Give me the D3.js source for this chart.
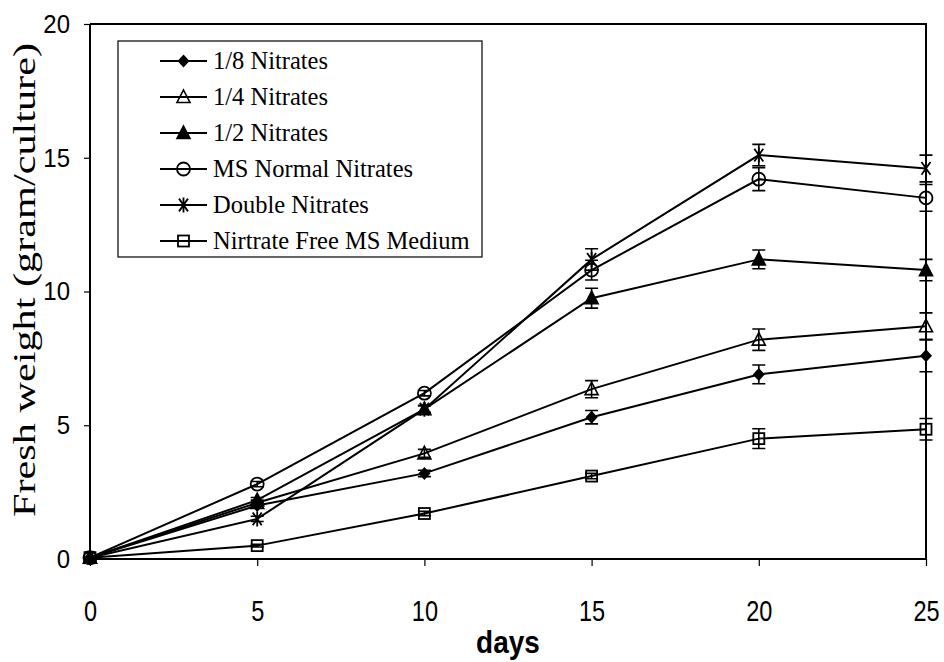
<!DOCTYPE html>
<html>
<head>
<meta charset="utf-8">
<script src="https://cdn.jsdelivr.net/npm/d3@7"></script>
<style>
  html, body { margin: 0; padding: 0; background: #fff; }
  svg { display: block; }
</style>
</head>
<body>
<svg id="chart" width="944" height="662"></svg>
<script>
// Sampling days
const days = [0, 5, 10, 15, 20, 25];

// Fresh weight (gram/culture) per treatment, with error half-widths
const eighthNitrates   = [0.05, 2.0, 3.2, 5.3, 6.9, 7.6];
const eighthErr        = [0.05, 0.1, 0.12, 0.25, 0.35, 0.6];
const quarterNitrates  = [0.05, 2.1, 3.95, 6.35, 8.2, 8.7];
const quarterErr       = [0.05, 0.1, 0.15, 0.32, 0.4, 0.5];
const halfNitrates     = [0.05, 2.2, 5.6, 9.75, 11.2, 10.8];
const halfErr          = [0.05, 0.1, 0.12, 0.37, 0.35, 0.4];
const normalNitrates   = [0.05, 2.8, 6.2, 10.8, 14.2, 13.5];
const normalErr        = [0.05, 0.1, 0.1, 0.37, 0.43, 0.5];
const doubleNitrates   = [0.05, 1.5, 5.6, 11.2, 15.1, 14.6];
const doubleErr        = [0.05, 0.1, 0.15, 0.4, 0.4, 0.5];
const freeNitrates     = [0.05, 0.5, 1.7, 3.1, 4.5, 4.85];
const freeErr          = [0.05, 0.05, 0.08, 0.1, 0.37, 0.4];

const seriesNames = ["1/8 Nitrates", "1/4 Nitrates", "1/2 Nitrates",
                     "MS Normal Nitrates", "Double Nitrates", "Nirtrate Free MS Medium"];
const markerKinds = ["diamond", "triangleOpen", "triangleFilled", "circle", "asterisk", "square"];

const xTicks = [0, 5, 10, 15, 20, 25];
const yTicks = [0, 5, 10, 15, 20];

const series = [
  { values: eighthNitrates,  err: eighthErr },
  { values: quarterNitrates, err: quarterErr },
  { values: halfNitrates,    err: halfErr },
  { values: normalNitrates,  err: normalErr },
  { values: doubleNitrates,  err: doubleErr },
  { values: freeNitrates,    err: freeErr }
].map((s, i) => ({ name: seriesNames[i], kind: markerKinds[i],
  points: days.map((d, j) => ({ day: d, v: s.values[j], e: s.err[j] })) }));

const svg = d3.select("#chart");
const plotLeft = 90, plotRight = 926, plotTop = 24, plotBottom = 559;

const x = d3.scaleLinear().domain([0, 25]).range([plotLeft, plotRight]);
const y = d3.scaleLinear().domain([0, 20]).range([plotBottom, plotTop]);

const sans = "'Liberation Sans', Arial, sans-serif";
const serif = "'Liberation Serif', 'Times New Roman', serif";

// Marker drawing
function drawMarker(g, kind, cx, cy) {
  if (kind === "diamond") {
    g.append("path").attr("d", `M${cx},${cy-6.5}L${cx+6},${cy}L${cx},${cy+6.5}L${cx-6},${cy}Z`)
      .attr("fill", "#000");
  } else if (kind === "triangleOpen" || kind === "triangleFilled") {
    g.append("path").attr("d", `M${cx},${cy-7}L${cx+6.5},${cy+5.5}L${cx-6.5},${cy+5.5}Z`)
      .attr("fill", kind === "triangleFilled" ? "#000" : "none")
      .attr("stroke", "#000").attr("stroke-width", 1.6);
  } else if (kind === "circle") {
    g.append("circle").attr("cx", cx).attr("cy", cy).attr("r", 6.5)
      .attr("fill", "none").attr("stroke", "#000").attr("stroke-width", 1.8);
  } else if (kind === "asterisk") {
    // vertical stroke crossed by two steep diagonals
    const r = 7.5;
    const d = `M${cx},${cy-r}L${cx},${cy+r}` +
              `M${cx-r*0.6},${cy-r*0.85}L${cx+r*0.6},${cy+r*0.85}` +
              `M${cx-r*0.6},${cy+r*0.85}L${cx+r*0.6},${cy-r*0.85}`;
    g.append("path").attr("d", d).attr("fill", "none").attr("stroke", "#000").attr("stroke-width", 1.8);
  } else if (kind === "square") {
    g.append("rect").attr("x", cx - 5.5).attr("y", cy - 5.5).attr("width", 11).attr("height", 11)
      .attr("fill", "none").attr("stroke", "#000").attr("stroke-width", 1.8);
  }
}

// Series lines
const line = d3.line().x(d => x(d.day)).y(d => y(d.v));
const plot = svg.append("g");
series.forEach(s => {
  plot.append("path").attr("d", line(s.points))
    .attr("fill", "none").attr("stroke", "#000").attr("stroke-width", 2);
});

// Markers
series.forEach(s => {
  const g = plot.append("g");
  s.points.forEach(p => drawMarker(g, s.kind, x(p.day), y(p.v)));
});

// Error bars
series.forEach(s => {
  s.points.forEach(p => {
    if (p.day === 0) return;
    const cx = x(p.day), y1 = y(p.v + p.e), y2 = y(p.v - p.e);
    plot.append("path")
      .attr("d", `M${cx},${y1}L${cx},${y2}M${cx-6.5},${y1}L${cx+6.5},${y1}M${cx-6.5},${y2}L${cx+6.5},${y2}`)
      .attr("fill", "none").attr("stroke", "#000").attr("stroke-width", 1.6);
  });
});

// Frame: top and right edges of the plot area
svg.append("path")
  .attr("d", `M${plotLeft},${plotTop}L${plotRight},${plotTop}L${plotRight},${plotBottom}`)
  .attr("fill", "none").attr("stroke", "#000").attr("stroke-width", 2);

// Axes
const xAxis = d3.axisBottom(x).tickValues(xTicks).tickSize(7).tickPadding(0);
const yAxis = d3.axisLeft(y).tickValues(yTicks).tickSize(6).tickPadding(14);

const gx = svg.append("g").attr("transform", `translate(0,${plotBottom})`).call(xAxis);
const gy = svg.append("g").attr("transform", `translate(${plotLeft},0)`).call(yAxis);
[gx, gy].forEach(g => {
  g.select(".domain").attr("stroke", "#000").attr("stroke-width", 2);
  g.selectAll(".tick line").attr("stroke", "#000").attr("stroke-width", 1.2);
  g.selectAll(".tick text").attr("fill", "#000")
    .style("font-family", sans).style("font-size", "24px");
});
gx.select(".domain").attr("d", `M${plotLeft},0H${plotRight}`);
gy.select(".domain").attr("d", `M0,${plotBottom}V${plotTop}`);
// Taller x tick labels
gx.selectAll(".tick text")
  .attr("y", null).attr("dy", null)
  .attr("transform", "translate(0,62) scale(0.98,1.22)");
gy.selectAll(".tick text").attr("transform", "scale(1,1.1)");

// Axis titles
svg.append("text")
  .attr("transform", "translate(508,653) scale(1,1.15)")
  .attr("text-anchor", "middle")
  .style("font-family", sans)
  .style("font-size", "28px").style("font-weight", "bold")
  .text("days");

svg.append("text")
  .attr("transform", "translate(35,280) rotate(-90)")
  .attr("text-anchor", "middle")
  .attr("textLength", 474).attr("lengthAdjust", "spacingAndGlyphs")
  .style("font-family", serif)
  .style("font-size", "32px")
  .text("Fresh weight (gram/culture)");

// Legend
const legend = svg.append("g");
legend.append("rect").attr("x", 118).attr("y", 41).attr("width", 364).attr("height", 216)
  .attr("fill", "#fff").attr("stroke", "#000").attr("stroke-width", 1.2);
series.forEach((s, i) => {
  const cy = 61 + i * 36;
  legend.append("line").attr("x1", 160).attr("x2", 207).attr("y1", cy).attr("y2", cy)
    .attr("stroke", "#000").attr("stroke-width", 2);
  drawMarker(legend, s.kind, 183.5, cy);
  legend.append("text")
    .attr("x", 213).attr("y", cy + 8)
    .style("font-family", serif)
    .style("font-size", "24.5px")
    .text(s.name);
});
</script>
</body>
</html>
